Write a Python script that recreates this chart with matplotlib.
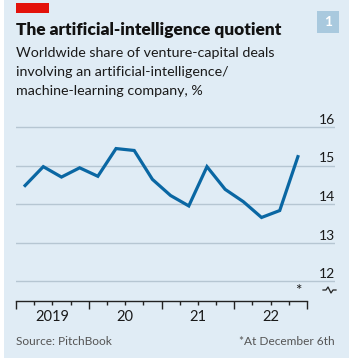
import matplotlib
matplotlib.use("Agg")
import matplotlib.pyplot as plt
from matplotlib.patches import Rectangle
from matplotlib.lines import Line2D
import matplotlib.transforms as mtransforms

plt.rcParams['font.family'] = ['Lato', 'DejaVu Sans']

# quarterly share of VC deals involving AI/ML companies, %
years = [2019] * 4 + [2020] * 4 + [2021] * 4 + [2022] * 4
quarters = [1, 2, 3, 4] * 4
share = [14.48, 14.97, 14.70, 14.94, 14.72, 15.44, 15.39, 14.64,
         14.22, 13.95, 14.97, 14.38, 14.06, 13.65, 13.83, 15.23]
y_ticks = [12, 13, 14, 15, 16]
year_labels = ["2019", "20", "21", "22"]

W, H = 354, 363
bg = "#e0ecf5"
blue = "#0a67a3"
grid_c = "#b6c6d2"

fig = plt.figure(figsize=(W / 100, H / 100), dpi=100)
fig.patch.set_facecolor("white")
fig.add_artist(Rectangle((4 / W, 1 - 358 / H), 345 / W, 358 / H,
                         transform=fig.transFigure, facecolor=bg,
                         edgecolor="none", zorder=0))
# red tag
fig.add_artist(Rectangle((16 / W, 1 - 13 / H), 33 / W, 10 / H,
                         transform=fig.transFigure, facecolor="#e3120b",
                         edgecolor="none"))
# chart number box
fig.add_artist(Rectangle((317 / W, 1 - 33 / H), 22 / W, 22 / H,
                         transform=fig.transFigure, facecolor="#a9c9de",
                         edgecolor="none"))
fig.text(328 / W, 1 - 22 / H, "1", color="white", fontsize=10,
         fontweight="bold", ha="center", va="center")

fig.text(16 / W, 1 - 35 / H, "The artificial-intelligence quotient",
         fontsize=12.4, fontweight="heavy", color="#121212", va="baseline")
sub = ["Worldwide share of venture-capital deals",
       "involving an artificial-intelligence/",
       "machine-learning company, %"]
for i, line in enumerate(sub):
    fig.text(16 / W, 1 - (57 + 19 * i) / H, line, fontsize=10.3,
             color="#1a1a1a", va="baseline")

ax = fig.add_axes([16 / W, 1 - 301 / H, (335 - 16) / W, (301 - 112) / H])
ax.set_facecolor("none")
x = [y + (q - 0.5) / 4 for y, q in zip(years, quarters)]
x_end = 2023 + 28 / 72.75
ax.set_xlim(2019, x_end)
ax.set_ylim(12 - 20 / 38.5, 16 + 15 / 38.5)

for v in y_ticks:
    ax.axhline(v, color=grid_c, lw=1, zorder=1)
    lab_tr = mtransforms.offset_copy(ax.get_yaxis_transform(), fig=fig,
                                     x=0, y=3, units="dots")
    ax.text(1.0, v, str(v), transform=lab_tr, ha="right", va="baseline",
            fontsize=10, color="#1a1a1a")

ax.plot(x, share, color=blue, lw=2.3, solid_joinstyle="miter", zorder=3)

for s in ["top", "left", "right"]:
    ax.spines[s].set_visible(False)
ax.spines["bottom"].set_bounds(2019, 2023)
ax.spines["bottom"].set_color("#222222")
ax.spines["bottom"].set_linewidth(1)
ax.set_yticks([])
ax.set_xticks([2019, 2020, 2021, 2022, 2023])
ax.set_xticks([yr + q / 4 for yr in range(2019, 2023) for q in (1, 2, 3)],
              minor=True)
ax.tick_params(axis="x", which="major", length=6, width=1, color="#222222",
               labelbottom=False)
ax.tick_params(axis="x", which="minor", length=3, width=1, color="#222222")
for i, lab in enumerate(year_labels):
    ax.text(2019.5 + i, -0.045, lab, transform=ax.get_xaxis_transform(),
            ha="center", va="top", fontsize=10.5, color="#1a1a1a")

# asterisk above last point on axis
ax.text(x[-1], 0.015, "*", transform=ax.get_xaxis_transform(), ha="center",
        va="bottom", fontsize=11, color="#1a1a1a")

# broken-axis zigzag
zx = [323, 326, 328, 331, 333, 336]
zy = [290, 290, 287, 293, 290, 290]
fig.add_artist(Line2D([v / W for v in zx], [1 - v / H for v in zy],
                      transform=fig.transFigure, color="#222222", lw=0.9))

fig.text(16 / W, 1 - 345 / H, "Source: PitchBook", fontsize=8.6,
         color="#555555", va="baseline")
fig.text(335 / W, 1 - 345 / H, "*At December 6th", fontsize=8.6,
         color="#555555", va="baseline", ha="right")

fig.savefig("out.png", dpi=100)
